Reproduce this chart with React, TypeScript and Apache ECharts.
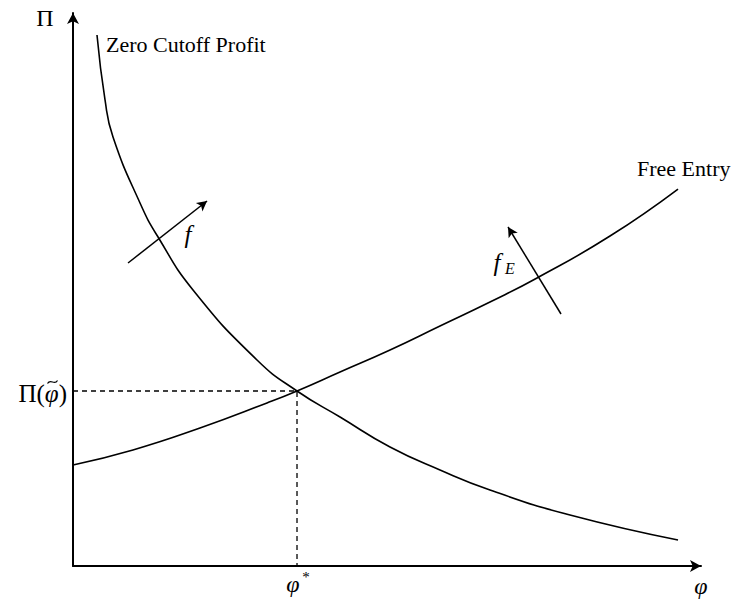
import React, { useEffect, useRef } from "react";
import * as echarts from "echarts";

// Zero Cutoff Profit curve (φ, Π)
const zcpX = [0.382, 0.51, 0.637, 1.067, 1.354, 1.911, 2.93, 3.567, 4.252, 5.048, 5.844, 6.64, 7.914, 9.634];
const zcpY = [9.602, 8.427, 7.758, 6.564, 5.949, 4.991, 3.725, 3.165, 2.694, 2.152, 1.736, 1.374, 0.922, 0.47];

// Free Entry curve (φ, Π)
const feX = [0, 0.955, 2.022, 3.089, 3.567, 4.252, 5.048, 5.844, 6.64, 7.389, 8.551, 9.634];
const feY = [1.826, 2.098, 2.495, 2.948, 3.165, 3.508, 3.906, 4.34, 4.774, 5.208, 5.967, 6.817];

// Equilibrium (φ*, Π(φ̃))
const eqX = 3.567;
const eqY = 3.165;

// Shift arrows: [x1, y1, x2, y2]
const arrowF = [0.876, 5.479, 2.134, 6.6];
const arrowFE = [7.771, 4.557, 6.927, 6.13];

const FAMILY = "Liberation Serif";

export default function App() {
  const ref = useRef<HTMLDivElement>(null);
  useEffect(() => {
    if (!ref.current) return;
    const chart = echarts.init(ref.current, undefined, { renderer: "svg" });
    const pairs = (xs: number[], ys: number[]) => xs.map((x, i) => [x, ys[i]]);
    const black = "#000";
    const axisCommon = {
      type: "value" as const,
      min: 0,
      max: 10,
      axisLine: {
        show: true,
        symbol: ["none", "arrow"],
        symbolSize: [9, 11],
        lineStyle: { color: black, width: 2 },
      },
      axisTick: { show: false },
      axisLabel: { show: false },
      splitLine: { show: false },
    };
    const arrowLine = (a: number[]) => [{ coord: [a[0], a[1]] }, { coord: [a[2], a[3]] }];
    const txt = (text: string, x: number, y: number, size: number, italic: boolean, align = "center") => ({
      type: "text",
      x,
      y,
      style: {
        text,
        fontFamily: FAMILY,
        fontSize: size,
        fontStyle: italic ? "italic" : "normal",
        fill: black,
        align,
        verticalAlign: "middle",
      },
    });
    chart.setOption({
      animation: false,
      backgroundColor: "#fff",
      grid: { left: 73, top: 13, right: 35, bottom: 35 },
      xAxis: axisCommon,
      yAxis: axisCommon,
      series: [
        {
          name: "Zero Cutoff Profit",
          type: "line",
          data: pairs(zcpX, zcpY),
          smooth: 0.5,
          showSymbol: false,
          lineStyle: { color: black, width: 1.6 },
          silent: true,
          markLine: {
            silent: true,
            symbol: ["none", "arrow"],
            symbolSize: [8, 10],
            label: { show: false },
            lineStyle: { color: black, width: 1.5, type: "solid" },
            data: [arrowLine(arrowF), arrowLine(arrowFE)],
          },
        },
        {
          name: "Free Entry",
          type: "line",
          data: pairs(feX, feY),
          smooth: 0.5,
          showSymbol: false,
          lineStyle: { color: black, width: 1.6 },
          silent: true,
        },
        {
          name: "Equilibrium",
          type: "line",
          data: [
            [0, eqY],
            [eqX, eqY],
            [eqX, 0],
          ],
          showSymbol: false,
          lineStyle: { color: black, width: 1.3, type: [5, 4] },
          silent: true,
        },
      ],
      graphic: [
        txt("Π", 45, 18, 24, false),
        txt("Zero Cutoff Profit", 106, 44, 22, false, "left"),
        txt("Free Entry", 637, 168, 22, false, "left"),
        {
          type: "text",
          x: 67,
          y: 393,
          style: {
            text: "{u|Π(}{i|φ}{u|)}",
            align: "right",
            verticalAlign: "middle",
            rich: {
              u: { fontFamily: FAMILY, fontSize: 25, fill: black },
              i: { fontFamily: FAMILY, fontSize: 25, fontStyle: "italic", fill: black },
            },
          },
        },
        {
          type: "bezierCurve",
          shape: { x1: 47.5, y1: 383.5, cpx1: 50.5, cpy1: 378, cpx2: 54.5, cpy2: 386, x2: 57.5, y2: 380.5 },
          style: { stroke: black, lineWidth: 1.2, fill: "none" },
        },
        txt("φ", 293, 584, 24, true),
        txt("*", 306, 577, 15, false),
        txt("φ", 701, 586, 24, true),
        txt("f", 188, 234, 25, true),
        txt("f", 497, 262, 25, true),
        txt("E", 510, 268, 16, true),
      ],
    });
    return () => chart.dispose();
  }, []);
  return <div ref={ref} style={{ position: "absolute", left: 0, top: 0, width: 736, height: 601 }} />;
}
